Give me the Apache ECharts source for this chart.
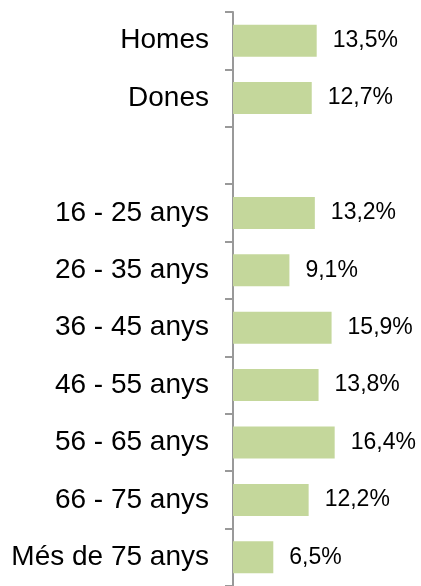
<!DOCTYPE html>
<html>
<head>
<meta charset="utf-8">
<script src="https://cdn.jsdelivr.net/npm/echarts@6/dist/echarts.min.js"></script>
<style>
  html, body { margin: 0; padding: 0; background: #fff; }
  #chart { width: 421px; height: 586px; }
</style>
</head>
<body>
<div id="chart"></div>
<script>
const categories = ['Homes', 'Dones', '', '16 - 25 anys', '26 - 35 anys', '36 - 45 anys',
  '46 - 55 anys', '56 - 65 anys', '66 - 75 anys', 'Més de 75 anys'];
const values = [13.5, 12.7, null, 13.2, 9.1, 15.9, 13.8, 16.4, 12.2, 6.5];

const chart = echarts.init(document.getElementById('chart'));

const option = {
  animation: false,
  textStyle: { fontFamily: 'Liberation Sans, Arial, sans-serif' },
  grid: { left: 233, top: 12, width: 186, height: 575 },
  xAxis: {
    type: 'value',
    min: 0,
    max: 30,
    show: false
  },
  yAxis: {
    type: 'category',
    inverse: true,
    data: categories,
    axisLine: { show: true, lineStyle: { color: '#999999', width: 2 } },
    axisTick: { show: true, interval: 0, inside: false, length: 8, lineStyle: { color: '#999999', width: 2 } },
    axisLabel: { color: '#000', fontSize: 28, margin: 24, interval: 0, padding: [4, 0, 0, 0] }
  },
  series: [{
    type: 'bar',
    data: values,
    barWidth: 32,
    itemStyle: { color: '#c4d79b' },
    label: {
      show: true,
      position: 'right',
      distance: 16,
      color: '#000',
      fontSize: 23,
      padding: [3, 0, 0, 0],
      formatter: function (p) {
        return p.value.toFixed(1).replace('.', ',') + '%';
      }
    }
  }]
};

chart.setOption(option);
</script>
</body>
</html>
